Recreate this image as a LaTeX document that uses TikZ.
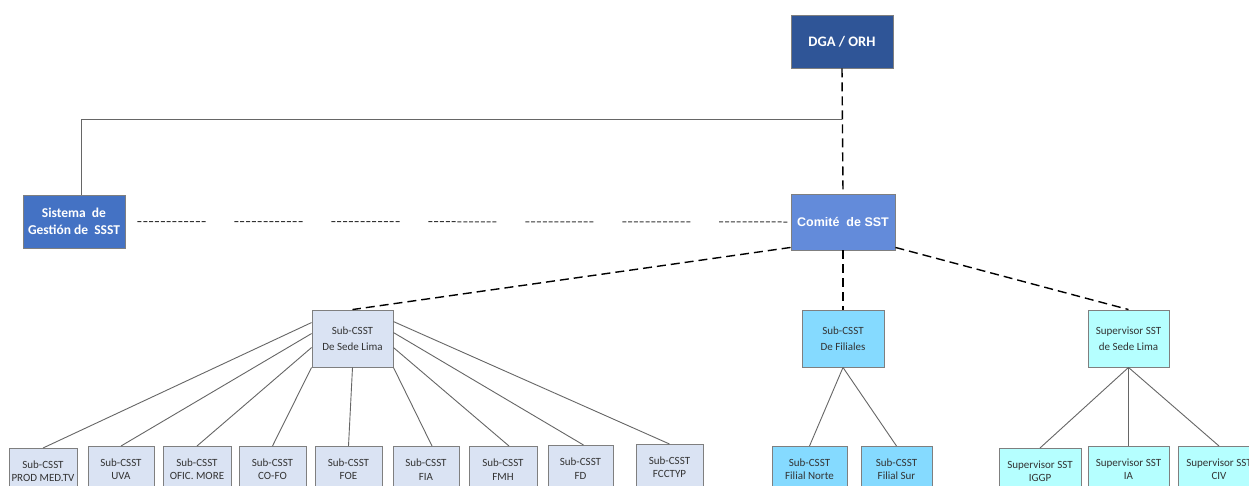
\documentclass[tikz,border=0pt]{standalone}
\usepackage{fontspec}
\setmainfont{Carlito}
\newfontfamily\arialfont{Liberation Sans}
\definecolor{cdga}{HTML}{2F5597}
\definecolor{csis}{HTML}{4472C4}
\definecolor{ccom}{HTML}{638BDA}
\definecolor{clight}{HTML}{DAE3F3}
\definecolor{ccyan}{HTML}{85DAFF}
\definecolor{cpale}{HTML}{B5FFFF}
\definecolor{cborder}{HTML}{7F7F7F}
\definecolor{cline}{HTML}{666666}
\definecolor{ctext}{HTML}{333333}
\tikzset{
  box/.style={draw=cborder, line width=0.9pt, inner sep=0pt, align=center},
  topbox/.style={box, text=white, font=\bfseries\fontsize{13.5}{17}\selectfont},
  midbox/.style={box, text=ctext, minimum width=81pt, minimum height=57pt, font=\fontsize{11}{16.5}\selectfont},
  leaf/.style={box, text=ctext, minimum height=46pt, font=\fontsize{11}{13.5}\selectfont},
  solidline/.style={draw=cline, line width=0.9pt},
  dashline/.style={draw=black, line width=1.4pt, dash pattern=on 9pt off 5pt},
  dotline/.style={draw=black!80, line width=1pt,
    dash pattern=on 4pt off 1.83pt on 4pt off 1.83pt on 4pt off 1.83pt on 4pt off 1.83pt on 4pt off 1.83pt on 4pt off 1.83pt on 4pt off 1.83pt on 4pt off 1.83pt on 4pt off 1.83pt on 4pt off 1.83pt on 4pt off 1.83pt on 4pt off 28.83pt},
}
\begin{document}
\begin{tikzpicture}[x=1pt,y=-1pt]
\clip (0,0) rectangle (1249,485);
\fill[white] (0,0) rectangle (1249,485);

% top level
\node[topbox, fill=cdga, minimum width=102pt, minimum height=53pt, font=\bfseries\fontsize{14.5}{17}\selectfont] (dga) at (842,41.5) {DGA / ORH};
\node[topbox, fill=csis, minimum width=102pt, minimum height=53pt] (sis) at (74,221.5) {Sistema\ \ de\\Gestión de\ \ SSST};
\node[topbox, fill=ccom, minimum width=104pt, minimum height=56pt, font=\arialfont\bfseries\fontsize{12.5}{15}\selectfont] (com) at (843,222) {Comité\ \ de SST};

% middle level
\node[midbox, fill=clight] (sede) at (352.5,338.5) {Sub-CSST\\De Sede Lima};
\node[midbox, fill=ccyan, minimum width=82pt] (fil) at (843,338.5) {Sub-CSST\\De Filiales};
\node[midbox, fill=cpale] (sup) at (1128.5,338.5) {Supervisor SST\\de Sede Lima};

% leaves
\node[leaf, fill=clight, minimum width=68pt, anchor=north] (prod) at (43,448) {Sub-CSST\\PROD MED.TV};
\node[leaf, fill=clight, minimum width=66pt, anchor=north] (uva) at (121,446) {Sub-CSST\\UVA};
\node[leaf, fill=clight, minimum width=68pt, anchor=north] (ofic) at (197,446) {Sub-CSST\\OFIC. MORE};
\node[leaf, fill=clight, minimum width=67pt, anchor=north] (cofo) at (272.5,446) {Sub-CSST\\CO-FO};
\node[leaf, fill=clight, minimum width=67pt, anchor=north] (foe) at (348.5,446) {Sub-CSST\\FOE};
\node[leaf, fill=clight, minimum width=66pt, anchor=north] (fia) at (426,446) {Sub-CSST\\FIA};
\node[leaf, fill=clight, minimum width=68pt, anchor=north] (fmh) at (503,446) {Sub-CSST\\FMH};
\node[leaf, fill=clight, minimum width=65pt, anchor=north] (fd) at (580.5,445) {Sub-CSST\\FD};
\node[leaf, fill=clight, minimum width=67pt, anchor=north] (fcc) at (669.5,444) {Sub-CSST\\FCCTYP};
\node[leaf, fill=ccyan, minimum width=75pt, anchor=north] (fn) at (809.5,446) {Sub-CSST\\Filial Norte};
\node[leaf, fill=ccyan, minimum width=71pt, anchor=north] (fs) at (896.5,446) {Sub-CSST\\Filial Sur};
\node[leaf, fill=cpale, minimum width=82pt, anchor=north] (iggp) at (1040,448) {Supervisor SST\\IGGP};
\node[leaf, fill=cpale, minimum width=81pt, anchor=north] (ia) at (1128.5,446) {Supervisor SST\\IA};
\node[leaf, fill=cpale, minimum width=82pt, anchor=north] (civ) at (1219,446) {Supervisor SST\\CIV};

% connectors
\coordinate (j) at (842,119);
\draw[solidline] (j) -| ([xshift=7pt]sis.north);
\draw[dashline] (dga.south) -- (com.north);
\draw[dashline] (com.south) -- (fil.north);
\draw[dashline] ([yshift=3pt]com.south west) -- (sede.north);
\draw[dashline] ([yshift=3pt]com.south east) -- (sup.north);
\draw[dotline] ([xshift=12pt]sis.east) -- (com.west);

\draw[solidline] ([yshift=-13pt]sede.north west) -- (prod.north);
\draw[solidline] ([yshift=-24pt]sede.north west) -- (uva.north);
\draw[solidline] ([yshift=-38pt]sede.north west) -- (ofic.north);
\draw[solidline] (sede.south west) -- (cofo.north);
\draw[solidline] (sede.south) -- (foe.north);
\draw[solidline] (sede.south east) -- ([xshift=6pt]fia.north);
\draw[solidline] ([yshift=-38pt]sede.north east) -- ([xshift=6pt]fmh.north);
\draw[solidline] ([yshift=-23pt]sede.north east) -- ([xshift=3pt]fd.north);
\draw[solidline] ([yshift=-12pt]sede.north east) -- (fcc.north);

\draw[solidline] (fil.south) -- (fn.north);
\draw[solidline] (fil.south) -- (fs.north);
\draw[solidline] (sup.south) -- (iggp.north);
\draw[solidline] (sup.south) -- (ia.north);
\draw[solidline] (sup.south) -- (civ.north);
\end{tikzpicture}
\end{document}
